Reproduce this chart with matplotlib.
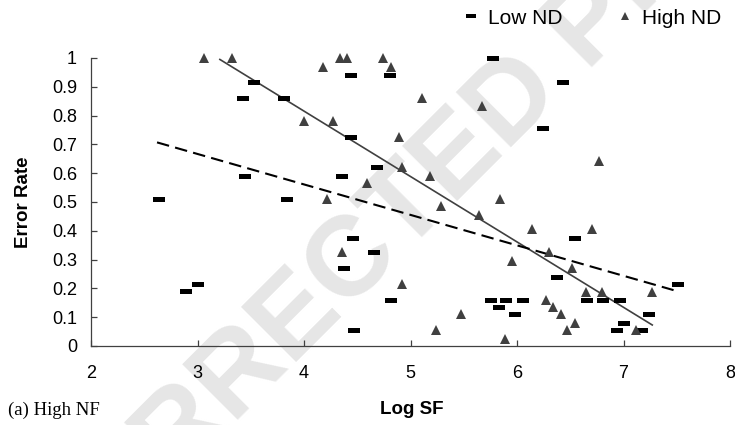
import numpy as np
import matplotlib.pyplot as plt
from matplotlib.path import Path

# ---------------- DATA ----------------
low_x = [2.64, 2.89, 3.00, 3.43, 3.45, 3.53, 3.81, 3.84, 4.36, 4.38, 4.44, 4.44,
         4.46, 4.47, 4.66, 4.69, 4.81, 4.82, 5.76, 5.77, 5.83, 5.90, 5.98, 6.06,
         6.24, 6.38, 6.43, 6.54, 6.66, 6.81, 6.94, 6.97, 7.00, 7.17, 7.24, 7.51]
low_y = [0.51, 0.19, 0.215, 0.86, 0.59, 0.916, 0.86, 0.51, 0.59, 0.271, 0.94, 0.725,
         0.376, 0.056, 0.326, 0.62, 0.94, 0.16, 0.16, 1.00, 0.135, 0.16, 0.111, 0.16,
         0.756, 0.24, 0.916, 0.376, 0.16, 0.16, 0.056, 0.16, 0.081, 0.056, 0.111, 0.214]

high_x = [3.06, 3.32, 4.00, 4.18, 4.22, 4.27, 4.34, 4.36, 4.40, 4.59, 4.74, 4.82,
          4.89, 4.92, 4.92, 5.11, 5.18, 5.24, 5.29, 5.47, 5.64, 5.67, 5.84, 5.89,
          5.95, 6.14, 6.27, 6.30, 6.34, 6.41, 6.47, 6.52, 6.54, 6.65, 6.70, 6.77,
          6.80, 7.12, 7.27]
high_y = [1.00, 1.00, 0.78, 0.97, 0.51, 0.78, 1.00, 0.327, 1.00, 0.565, 1.00, 0.97,
          0.725, 0.62, 0.215, 0.86, 0.59, 0.056, 0.486, 0.111, 0.455, 0.834, 0.51, 0.023,
          0.296, 0.405, 0.16, 0.327, 0.134, 0.11, 0.056, 0.27, 0.081, 0.189, 0.405, 0.643,
          0.189, 0.056, 0.189]

# trend lines (end points)
trend_high_x = [3.21, 7.27]
trend_high_y = [0.995, 0.073]
trend_low_x = [2.62, 7.47]
trend_low_y = [0.707, 0.194]

xticks = [2, 3, 4, 5, 6, 7, 8]
yticks = [0, 0.1, 0.2, 0.3, 0.4, 0.5, 0.6, 0.7, 0.8, 0.9, 1]
ytick_labels = ["0", "0.1", "0.2", "0.3", "0.4", "0.5", "0.6", "0.7", "0.8", "0.9", "1"]

# ---------------- PLOT ----------------
plt.rcParams["font.family"] = ["Liberation Sans", "DejaVu Sans"]
GRAY = "#404040"
W, H = 735, 425

rect = Path([(-1, -0.45), (1, -0.45), (1, 0.45), (-1, 0.45), (-1, -0.45)],
            [Path.MOVETO, Path.LINETO, Path.LINETO, Path.LINETO, Path.CLOSEPOLY])

fig = plt.figure(figsize=(7.35, 4.25), dpi=100)
ax = fig.add_axes([91 / W, 1 - 346 / H, (730 - 91) / W, (346 - 58) / H])
ax.patch.set_alpha(0)

# watermark
fig.text(0.524, 0.452, "UNCORRECTED PROOF", fontsize=82, fontweight="bold",
         color="#e6e6e6", rotation=45, ha="center", va="center",
         rotation_mode="anchor", zorder=-5)

ax.plot(low_x, low_y, linestyle="none", marker=rect, markersize=8,
        color="black", markeredgewidth=0, clip_on=False, label="Low ND", zorder=3)
ax.plot(high_x, high_y, linestyle="none", marker="^", markersize=6.8,
        color=GRAY, markeredgewidth=0, clip_on=False, label="High ND", zorder=3)

ax.plot(trend_high_x, trend_high_y, "-", color=GRAY, lw=1.2, zorder=2)
ax.plot(trend_low_x, trend_low_y, color="black", lw=1.5, dashes=(6, 3), zorder=2)

ax.set_xlim(2, 8)
ax.set_ylim(0, 1)
ax.set_xticks(xticks)
ax.set_yticks(yticks)
ax.set_yticklabels(ytick_labels)
for s in ["top", "right"]:
    ax.spines[s].set_visible(False)
for s in ["left", "bottom"]:
    ax.spines[s].set_color(GRAY)
    ax.spines[s].set_linewidth(0.9)
ax.tick_params(axis="both", direction="in", length=4, width=0.9, color=GRAY,
               labelsize=13)
ax.tick_params(axis="y", pad=10)
ax.tick_params(axis="x", pad=14)

fig.text(23 / W, 1 - 202 / H, "Error Rate", fontsize=13.5, fontweight="bold",
         rotation=90, ha="center", va="center", zorder=10)
fig.text(412 / W, 1 - 410 / H, "Log SF", fontsize=13.5, fontweight="bold",
         ha="center", va="center", zorder=10)
fig.text(8 / W, 1 - 410 / H, "(a) High NF", fontsize=13.5, color="black",
         family=["Liberation Serif", "DejaVu Serif"], ha="left", va="center",
         zorder=10)

fig.legend(loc="center right", bbox_to_anchor=(721 / W, 1 - 18 / H), ncol=2,
           frameon=False, fontsize=15, handlelength=0.8, handletextpad=0.4,
           columnspacing=2.6, borderpad=0, borderaxespad=0, markerscale=0.85)

plt.savefig("out.png", dpi=100)
